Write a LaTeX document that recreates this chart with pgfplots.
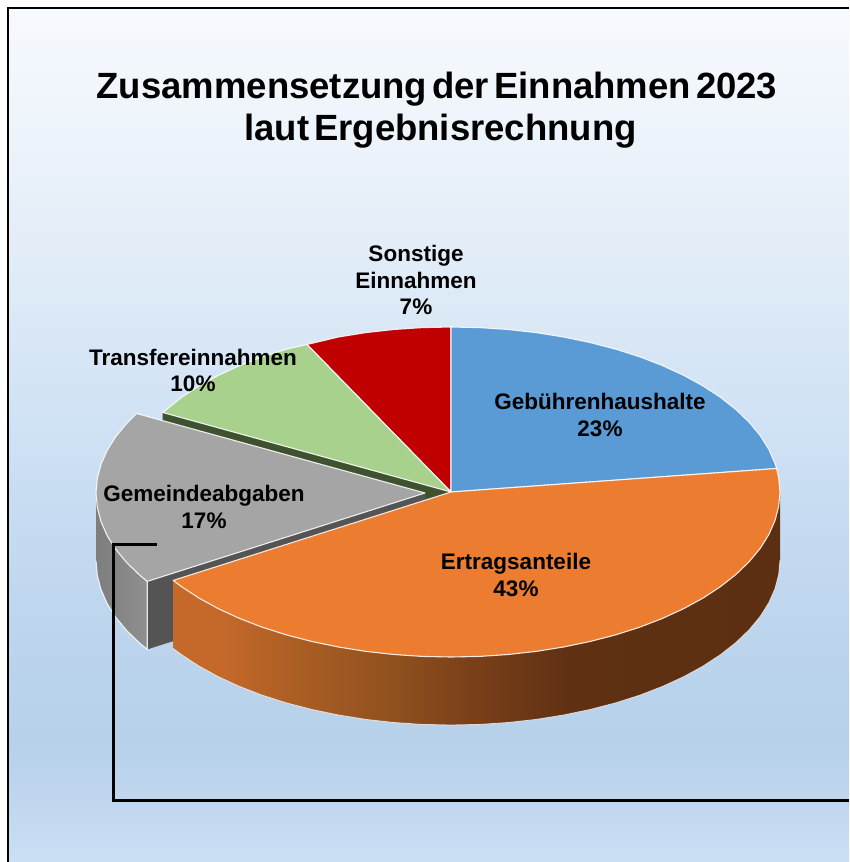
\documentclass[border=0pt]{standalone}
\usepackage{pgfplots}
\pgfplotsset{compat=1.18}
\usepackage{fontspec}
\setmainfont{Liberation Sans}
\definecolor{cblue}{HTML}{5B9BD5}
\definecolor{corange}{HTML}{EC7C30}
\definecolor{cgray}{HTML}{A5A5A5}
\definecolor{cgreen}{HTML}{A9D18E}
\definecolor{cred}{HTML}{C00000}
\definecolor{dgreen}{HTML}{3F5230}
\definecolor{dgray}{HTML}{545454}
\definecolor{bg0}{RGB}{203,224,244}
\definecolor{bg1}{RGB}{192,214,238}
\definecolor{bg2}{RGB}{183,209,234}
\definecolor{bg3}{RGB}{190,214,238}
\definecolor{bg4}{RGB}{205,224,244}
\definecolor{bg5}{RGB}{221,234,247}
\definecolor{bg6}{RGB}{235,242,250}
\definecolor{bg7}{RGB}{247,250,254}
\definecolor{or0}{RGB}{196,105,42}
\definecolor{or1}{RGB}{173,95,36}
\definecolor{or2}{RGB}{142,79,30}
\definecolor{or3}{RGB}{122,64,25}
\definecolor{or4}{RGB}{95,49,18}
\definecolor{or5}{RGB}{92,47,18}
\definecolor{gr0}{RGB}{126,126,126}
\definecolor{gr1}{RGB}{143,143,143}
\pgfdeclareverticalshading{bgsh}{100bp}{
 color(0bp)=(bg0);
 color(25bp)=(bg0);
 color(28.6bp)=(bg1);
 color(32bp)=(bg2);
 color(40bp)=(bg3);
 color(49bp)=(bg4);
 color(58bp)=(bg5);
 color(66bp)=(bg6);
 color(75bp)=(bg7);
 color(100bp)=(bg7)}
\pgfdeclarehorizontalshading{orwall}{100bp}{
 color(0bp)=(or0);
 color(28.9bp)=(or0);
 color(34.6bp)=(or1);
 color(43.7bp)=(or2);
 color(49.5bp)=(or3);
 color(57.7bp)=(or4);
 color(75bp)=(or5);
 color(100bp)=(or5)}
\pgfdeclarehorizontalshading{grwall}{100bp}{
 color(0bp)=(gr0);
 color(25bp)=(gr0);
 color(75bp)=(gr1);
 color(100bp)=(gr1)}
\begin{document}
\begin{tikzpicture}
\begin{axis}[
  width=849pt,height=862pt,scale only axis,
  xmin=0,xmax=849,ymin=0,ymax=862,y dir=reverse,
  axis lines=none,clip=true,
  every axis plot/.append style={no markers},
  edge/.style={draw=white,draw opacity=.85,line width=1.1pt,line join=round},
]
% page
\addplot[fill=white,draw=none] coordinates {(0,0)(849,0)(849,862)(0,862)} -- cycle;
% background
\addplot[draw=none,shade,shading=bgsh] coordinates {(8,8)(849,8)(849,862)(8,862)} -- cycle;
\addplot[black,line width=2.6pt] coordinates {(8,862)(8,8)(849,8)};
% green inner wall
\addplot[fill=dgreen,draw=none] coordinates {(162.7,412.5)(451,492)(451,560)(162.7,480.5)} -- cycle;
% red slice
\addplot[fill=cred,edge] coordinates {(451,492)(307,344.5)(338.5,337.0)(365.9,332.6)(393.9,329.5)(422.3,327.6)(451,327)} -- cycle;
% green slice
\addplot[fill=cgreen,edge] coordinates {(451,492)(162.7,412.5)(181.5,397.4)(199.0,385.9)(218.4,375.3)(239.5,365.6)(262.3,356.8)(286.5,349.1)(307,344.5)} -- cycle;
% blue slice
\addplot[fill=cblue,edge] coordinates {(451,492)(451,327)(479.7,327.6)(508.1,329.5)(536.1,332.6)(563.5,337.0)(590.0,342.5)(615.5,349.1)(639.7,356.8)(662.5,365.6)(683.6,375.3)(703.0,385.9)(720.5,397.4)(735.9,409.5)(749.2,422.3)(760.2,435.6)(768.8,449.3)(775.0,463.4)(776.6,468.5)} -- cycle;
% gray slice walls
\addplot[draw=none,shade,shading=grwall] coordinates {(147.2,581.4)(140.1,575.5)(126.8,562.7)(115.8,549.4)(107.2,535.7)(101,521.6)(97.3,507.4)(96,493)(96,561)(97.3,575.4)(101,589.6)(107.2,603.7)(115.8,617.4)(126.8,630.7)(140.1,643.5)(147.2,649.4)} -- cycle;
\addplot[fill=dgray,draw=none] coordinates {(147.2,581.4)(425,493)(425,561)(147.2,649.4)} -- cycle;
\addplot[edge] coordinates {(96,561)(97.3,575.4)(101,589.6)(107.2,603.7)(115.8,617.4)(126.8,630.7)(140.1,643.5)(147.2,649.4)(147.2,581.4)};
% gray slice
\addplot[fill=cgray,edge] coordinates {(425,493)(147.2,581.4)(140.1,575.5)(126.8,562.7)(115.8,549.4)(107.2,535.7)(101,521.6)(97.3,507.4)(96,493)(97.3,478.6)(101,464.4)(107.2,450.3)(115.8,436.6)(126.8,423.3)(136.7,413.5)} -- cycle;
% orange wall
\addplot[draw=none,shade,shading=orwall] coordinates {(780,492)(778.7,506.4)(775.0,520.6)(768.8,534.7)(760.2,548.4)(749.2,561.7)(735.9,574.5)(720.5,586.6)(703.0,598.1)(683.6,608.7)(662.5,618.4)(639.7,627.2)(615.5,634.9)(590.0,641.5)(563.5,647.0)(536.1,651.4)(508.1,654.5)(479.7,656.4)(451,657)(422.3,656.4)(393.9,654.5)(365.9,651.4)(338.5,647.0)(312.0,641.5)(286.5,634.9)(262.3,627.2)(239.5,618.4)(218.4,608.7)(199.0,598.1)(181.5,586.6)(173.2,580.4)(173.2,648.4)(181.5,654.6)(199.0,666.1)(218.4,676.7)(239.5,686.4)(262.3,695.2)(286.5,702.9)(312.0,709.5)(338.5,715.0)(365.9,719.4)(393.9,722.5)(422.3,724.4)(451,725)(479.7,724.4)(508.1,722.5)(536.1,719.4)(563.5,715.0)(590.0,709.5)(615.5,702.9)(639.7,695.2)(662.5,686.4)(683.6,676.7)(703.0,666.1)(720.5,654.6)(735.9,642.5)(749.2,629.7)(760.2,616.4)(768.8,602.7)(775.0,588.6)(778.7,574.4)(780,560)} -- cycle;
\addplot[draw=white,draw opacity=.7,line width=.8pt] coordinates {(173.2,648.4)(181.5,654.6)(199.0,666.1)(218.4,676.7)(239.5,686.4)(262.3,695.2)(286.5,702.9)(312.0,709.5)(338.5,715.0)(365.9,719.4)(393.9,722.5)(422.3,724.4)(451,725)(479.7,724.4)(508.1,722.5)(536.1,719.4)(563.5,715.0)(590.0,709.5)(615.5,702.9)(639.7,695.2)(662.5,686.4)(683.6,676.7)(703.0,666.1)(720.5,654.6)(735.9,642.5)(749.2,629.7)(760.2,616.4)(768.8,602.7)(775.0,588.6)(778.7,574.4)(780,560)};
% orange slice
\addplot[fill=corange,edge] coordinates {(451,492)(776.6,468.5)(778.7,477.6)(780,492)(778.7,506.4)(775.0,520.6)(768.8,534.7)(760.2,548.4)(749.2,561.7)(735.9,574.5)(720.5,586.6)(703.0,598.1)(683.6,608.7)(662.5,618.4)(639.7,627.2)(615.5,634.9)(590.0,641.5)(563.5,647.0)(536.1,651.4)(508.1,654.5)(479.7,656.4)(451,657)(422.3,656.4)(393.9,654.5)(365.9,651.4)(338.5,647.0)(312.0,641.5)(286.5,634.9)(262.3,627.2)(239.5,618.4)(218.4,608.7)(199.0,598.1)(181.5,586.6)(173.2,580.4)} -- cycle;
% leader line
\addplot[black,line width=3pt,line join=miter] coordinates {(157,544)(113,544)(113,800)(849,800)};
% texts
\def\ttl{\fontsize{36.5}{40}\selectfont\bfseries\spaceskip=.14em\relax}
\node[font=\ttl] at (axis cs:437,89) {Zusammensetzung der Einnahmen 2023};
\node[font=\ttl] at (axis cs:440.5,131) {laut Ergebnisrechnung};
\def\lab{\fontsize{22.5}{26.5}\selectfont\bfseries}
\node[font=\lab,align=center] at (axis cs:416,280) {Sonstige\\Einnahmen\\7\%};
\node[font=\lab,align=center] at (axis cs:193,370.5) {Transfereinnahmen\\10\%};
\node[font=\lab,align=center] at (axis cs:600,415) {Gebührenhaushalte\\23\%};
\node[font=\lab,align=center] at (axis cs:204,507) {Gemeindeabgaben\\17\%};
\node[font=\lab,align=center] at (axis cs:516,575) {Ertragsanteile\\43\%};
\end{axis}
\end{tikzpicture}
\end{document}
